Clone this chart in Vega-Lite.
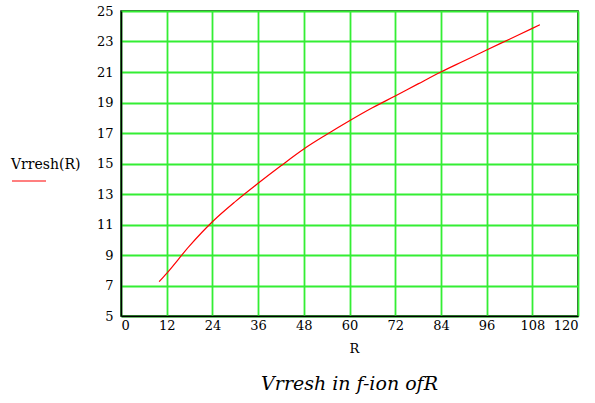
{
  "$schema": "https://vega.github.io/schema/vega-lite/v6.json",
  "autosize": {"type": "none"},
  "width": 457,
  "height": 305,
  "padding": {"left": 121, "top": 11, "right": 17, "bottom": 87},
  "background": "white",
  "config": {
    "font": "DejaVu Serif",
    "view": {"stroke": "#000000", "strokeWidth": 1.5}
  },
  "title": {
    "text": "Vrresh in f-ion ofR",
    "orient": "bottom",
    "anchor": "middle",
    "font": "DejaVu Serif",
    "fontStyle": "italic",
    "fontWeight": "normal",
    "fontSize": 19,
    "color": "#000000",
    "offset": 20
  },
  "data": {
    "values": [
      {"R": 10, "V": 7.25, "series": "Vrresh(R)"},
      {"R": 12, "V": 7.8, "series": "Vrresh(R)"},
      {"R": 18, "V": 9.6, "series": "Vrresh(R)"},
      {"R": 24, "V": 11.18, "series": "Vrresh(R)"},
      {"R": 30, "V": 12.5, "series": "Vrresh(R)"},
      {"R": 36, "V": 13.7, "series": "Vrresh(R)"},
      {"R": 42, "V": 14.85, "series": "Vrresh(R)"},
      {"R": 48, "V": 15.95, "series": "Vrresh(R)"},
      {"R": 54, "V": 16.9, "series": "Vrresh(R)"},
      {"R": 60, "V": 17.8, "series": "Vrresh(R)"},
      {"R": 66, "V": 18.65, "series": "Vrresh(R)"},
      {"R": 72, "V": 19.43, "series": "Vrresh(R)"},
      {"R": 78, "V": 20.22, "series": "Vrresh(R)"},
      {"R": 84, "V": 21.0, "series": "Vrresh(R)"},
      {"R": 90, "V": 21.72, "series": "Vrresh(R)"},
      {"R": 96, "V": 22.44, "series": "Vrresh(R)"},
      {"R": 102, "V": 23.15, "series": "Vrresh(R)"},
      {"R": 108, "V": 23.86, "series": "Vrresh(R)"},
      {"R": 110, "V": 24.1, "series": "Vrresh(R)"}
    ]
  },
  "mark": {"type": "line", "strokeWidth": 1.2, "interpolate": "monotone"},
  "encoding": {
    "x": {
      "field": "R",
      "type": "quantitative",
      "scale": {"domain": [0, 120], "nice": false, "zero": false},
      "axis": {
        "values": [0, 12, 24, 36, 48, 60, 72, 84, 96, 108, 120],
        "title": "R",
        "titleFont": "DejaVu Serif",
        "titleFontSize": 13,
        "titleFontWeight": "normal",
        "titleColor": "#000000",
        "titlePadding": 10,
        "titleX": 233,
        "labelFont": "DejaVu Serif",
        "labelFontSize": 13,
        "labelColor": "#000000",
        "labelPadding": 3,
        "ticks": false,
        "domainColor": "#000000",
        "domainWidth": 1.5,
        "gridColor": "#33ee33",
        "gridWidth": 1.8,
        "gridOpacity": 1
      }
    },
    "y": {
      "field": "V",
      "type": "quantitative",
      "scale": {"domain": [5, 25], "nice": false, "zero": false},
      "axis": {
        "values": [5, 7, 9, 11, 13, 15, 17, 19, 21, 23, 25],
        "title": null,
        "labelFont": "DejaVu Serif",
        "labelFontSize": 13,
        "labelColor": "#000000",
        "labelPadding": 8,
        "ticks": false,
        "domainColor": "#000000",
        "domainWidth": 1.5,
        "gridColor": "#33ee33",
        "gridWidth": 1.8,
        "gridOpacity": 1
      }
    },
    "color": {
      "field": "series",
      "type": "nominal",
      "scale": {"range": ["#ff0000"]},
      "legend": {
        "orient": "none",
        "legendX": -110,
        "legendY": 147,
        "title": "Vrresh(R)",
        "titleFont": "DejaVu Serif",
        "titleFontSize": 14,
        "titleFontWeight": "normal",
        "titleColor": "#000000",
        "titlePadding": -9,
        "symbolType": "stroke",
        "symbolSize": 1156,
        "symbolStrokeWidth": 1.2,
        "labelExpr": "''",
        "padding": 0
      }
    }
  }
}
